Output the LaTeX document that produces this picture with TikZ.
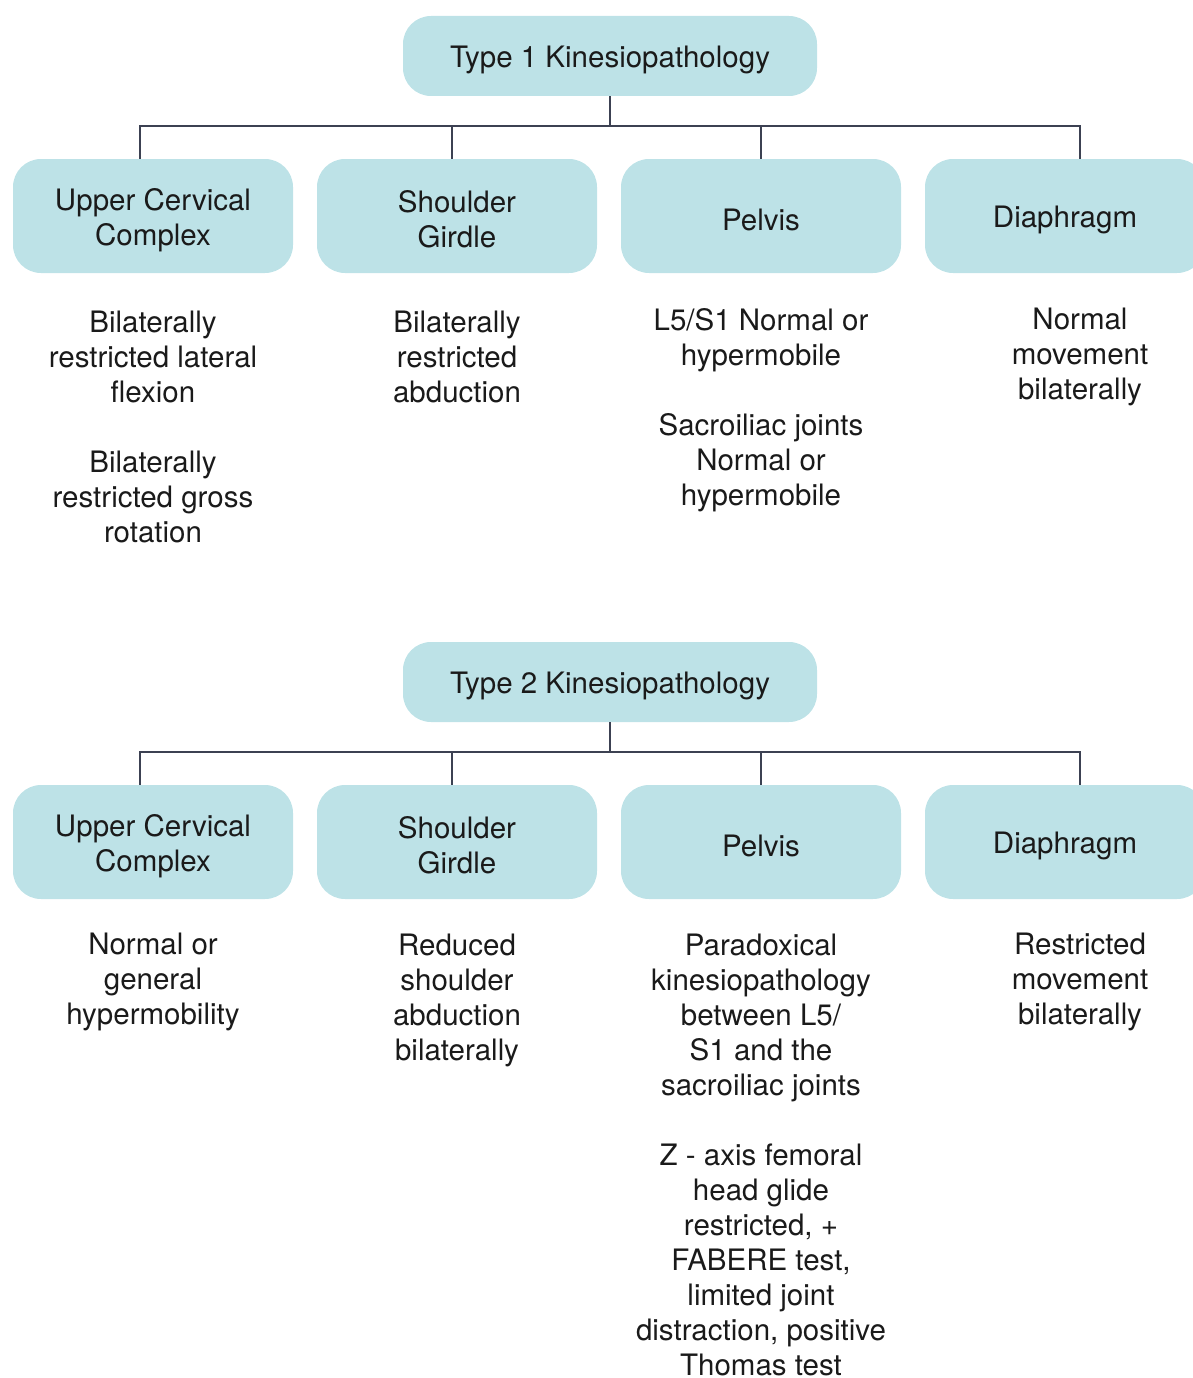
\documentclass[tikz,border=0pt]{standalone}
\usepackage{fontspec}
\setmainfont{TeX Gyre Heros}
\definecolor{boxfill}{HTML}{BDE2E7}
\definecolor{linecol}{HTML}{3C4152}
\definecolor{txt}{HTML}{1A1A1A}
\newcommand\raisestrut{\rule{0pt}{1em}}
\begin{document}
\begin{tikzpicture}[x=1pt,y=-1pt,
  every node/.style={text=txt,font=\fontsize{29.5}{35}\selectfont},
  topbox/.style={fill=boxfill,rounded corners=28pt,minimum width=414pt,minimum height=80pt,inner sep=0pt},
  catbox/.style={fill=boxfill,rounded corners=28pt,minimum width=280pt,minimum height=114pt,inner sep=0pt,align=center},
  desc/.style={align=center,inner sep=0pt},
  conn/.style={draw=linecol,line width=1.4pt}]
\useasboundingbox (0,0) rectangle (1193,1378);
\clip (0,0) rectangle (1193,1378);
\foreach \off/\lvl in {0/1,626/2}{
  \node[topbox] (t\lvl) at (610,56+\off) {\raisestrut Type \lvl\ Kinesiopathology};
  \node[catbox] (u\lvl) at (153,216+\off) {\raisestrut Upper Cervical\\Complex};
  \node[catbox] (s\lvl) at (457,216+\off) {\raisestrut Shoulder\\Girdle};
  \node[catbox] (p\lvl) at (761,216+\off) {\raisestrut Pelvis};
  \node[catbox] (d\lvl) at (1065,216+\off) {\raisestrut Diaphragm};
  \coordinate (j\lvl) at (610,126+\off);
  \draw[conn] (t\lvl.south) -- (j\lvl);
  \draw[conn] (j\lvl) -| ([xshift=-13pt]u\lvl.north);
  \draw[conn] (j\lvl) -| ([xshift=-5pt]s\lvl.north);
  \draw[conn] (j\lvl) -| (p\lvl.north);
  \draw[conn] (j\lvl) -| ([xshift=15pt]d\lvl.north);
}
% Type 1 descriptions
\node[desc] (du1) at (153,427) {Bilaterally\\restricted lateral\\flexion\\[35pt]Bilaterally\\restricted gross\\rotation};
\node[desc] (ds1) at (457,357) {Bilaterally\\restricted\\abduction};
\node[desc] (dp1) at (761,410) {L5/S1 Normal or\\hypermobile\\[35pt]Sacroiliac joints\\Normal or\\hypermobile};
\node[desc] (dd1) at (1080,357) {Normal\\movement\\bilaterally};
% Type 2 descriptions
\node[desc] (du2) at (153,982) {Normal or\\general\\hypermobility};
\node[desc] (ds2) at (457,1000) {Reduced\\shoulder\\abduction\\bilaterally};
\node[desc] (dp2) at (761,1155) {Paradoxical\\kinesiopathology\\between L5/\\S1 and the\\sacroiliac joints\\[35pt]Z - axis femoral\\head glide\\restricted, +\\FABERE test,\\limited joint\\distraction, positive\\Thomas test};
\node[desc] (dd2) at (1080,982) {Restricted\\movement\\bilaterally};
\end{tikzpicture}
\end{document}
